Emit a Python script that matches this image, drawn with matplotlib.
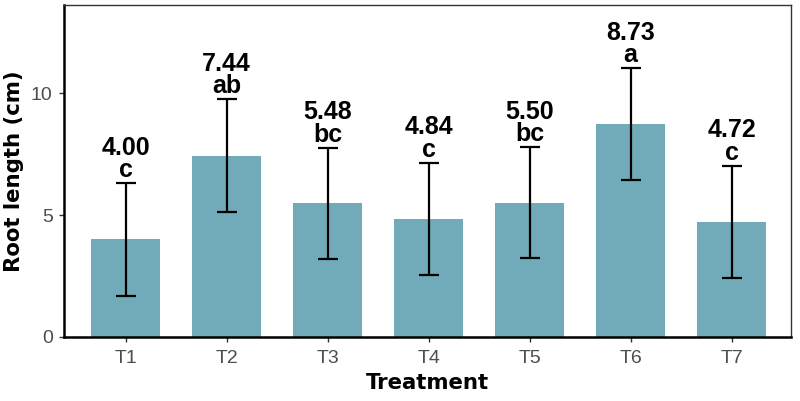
import matplotlib
matplotlib.use("Agg")
import matplotlib.pyplot as plt

# dados
tratamentos = ["T1", "T2", "T3", "T4", "T5", "T6", "T7"]
medias = [4.00, 7.44, 5.48, 4.84, 5.50, 8.73, 4.72]
erros = [2.31, 2.31, 2.29, 2.30, 2.28, 2.29, 2.30]
letras = ["c", "ab", "bc", "c", "bc", "a", "c"]

fig = plt.figure(figsize=(8, 4.01), dpi=100)
ax = fig.add_axes([0.08, 0.16, 0.909, 0.8275])

pos = list(range(1, len(tratamentos) + 1))
ax.bar(pos, medias, width=0.69, color="#71abb9", zorder=1)
ax.errorbar(pos, medias, yerr=erros, fmt="none", ecolor="black",
            elinewidth=1.6, capsize=7.2, capthick=1.6, zorder=2)

fonte = "Liberation Sans"
for x, m, e, l in zip(pos, medias, erros, letras):
    # letra logo acima da barra de erro, média por cima
    ax.annotate(l, (x, m + e), xytext=(0, 4.3), textcoords="offset points",
                ha="center", va="baseline", fontsize=18, fontweight="bold",
                family=fonte)
    ax.annotate(f"{m:.2f}", (x, m + e), xytext=(0, 4.3 + 16.2),
                textcoords="offset points", ha="center", va="baseline",
                fontsize=18, fontweight="bold", family=fonte)

ax.set_xlim(0.39, 7.59)
ax.set_ylim(0, 13.62)
ax.set_xticks(pos)
ax.set_xticklabels(tratamentos, family=fonte)
ax.set_yticks([0, 5, 10])
ax.set_yticklabels(["0", "5", "10"], family=fonte)
ax.tick_params(axis="both", labelsize=14, colors="#333333", labelcolor="#4d4d4d",
               length=3.6, width=1)
ax.tick_params(axis="y", pad=4.5)
ax.tick_params(axis="x", pad=6)
ax.set_xlabel("Treatment", fontsize=15.3, fontweight="bold", labelpad=4)
ax.set_ylabel("Root length (cm)", fontsize=15.3, fontweight="bold", labelpad=5)

for lado in ["left", "bottom"]:
    ax.spines[lado].set_linewidth(1.8)
    ax.spines[lado].set_color("black")
for lado in ["top", "right"]:
    ax.spines[lado].set_linewidth(1.0)
    ax.spines[lado].set_color("#333333")

fig.savefig("out.png", dpi=100)
